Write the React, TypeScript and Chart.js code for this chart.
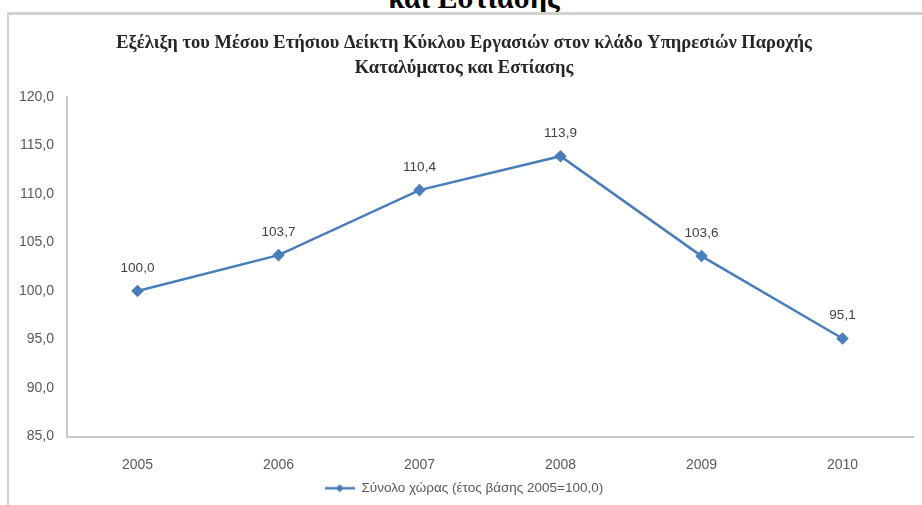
import React, { useEffect, useRef } from "react";
import { Chart, registerables } from "chart.js";

Chart.register(...registerables);

const categories = ["2005", "2006", "2007", "2008", "2009", "2010"];
const seriesValues = [100.0, 103.7, 110.4, 113.9, 103.6, 95.1];
const seriesLabel = "Σύνολο χώρας (έτος βάσης 2005=100,0)";
const titleLines = [
  "Εξέλιξη του Μέσου Ετήσιου Δείκτη Κύκλου Εργασιών στον κλάδο Υπηρεσιών Παροχής",
  "Καταλύματος και Εστίασης",
];
const headingText = "και Εστίασης";
const yMin = 85;
const yMax = 120;
const yStep = 5;

const LINE_COLOR = "#4a7ebb";

const fmt = (v: number) => v.toFixed(1).replace(".", ",");

function makeLegendImage(): HTMLCanvasElement {
  const c = document.createElement("canvas");
  c.width = 30;
  c.height = 10;
  const ctx = c.getContext("2d")!;
  ctx.strokeStyle = LINE_COLOR;
  ctx.lineWidth = 2.5;
  ctx.beginPath();
  ctx.moveTo(0, 5);
  ctx.lineTo(30, 5);
  ctx.stroke();
  ctx.fillStyle = LINE_COLOR;
  ctx.beginPath();
  ctx.moveTo(15, 1);
  ctx.lineTo(19, 5);
  ctx.lineTo(15, 9);
  ctx.lineTo(11, 5);
  ctx.closePath();
  ctx.fill();
  return c;
}

const dataLabelPlugin = {
  id: "dataLabels",
  afterDatasetsDraw(chart: any) {
    const ctx = chart.ctx;
    chart.data.datasets.forEach((ds: any, i: number) => {
      const meta = chart.getDatasetMeta(i);
      meta.data.forEach((pt: any, j: number) => {
        ctx.save();
        ctx.font = "13.5px 'Liberation Sans'";
        ctx.fillStyle = "#404040";
        ctx.textAlign = "center";
        ctx.textBaseline = "middle";
        ctx.fillText(fmt(ds.data[j]), pt.x, pt.y - 23);
        ctx.restore();
      });
    });
  },
};

export default function App() {
  const canvasRef = useRef<HTMLCanvasElement | null>(null);

  useEffect(() => {
    if (!canvasRef.current) return;
    const legendImg = makeLegendImage();
    const chart = new Chart(canvasRef.current, {
      type: "line",
      data: {
        labels: categories,
        datasets: [
          {
            label: seriesLabel,
            data: seriesValues,
            borderColor: LINE_COLOR,
            backgroundColor: LINE_COLOR,
            borderWidth: 2.5,
            tension: 0,
            pointStyle: "rectRot",
            pointRadius: 4.5,
            pointBackgroundColor: LINE_COLOR,
            pointBorderColor: LINE_COLOR,
          },
        ],
      },
      options: {
        responsive: false,
        animation: false,
        layout: { padding: { top: 31, left: 15, right: 9, bottom: 0 } },
        scales: {
          x: {
            offset: true,
            grid: { display: false },
            border: { display: true, color: "#c8c8c8", width: 2 },
            ticks: {
              color: "#595959",
              font: { family: "'Liberation Sans'", size: 14 },
              padding: 12,
            },
            afterFit(scale: any) {
              scale.height = 34;
            },
          },
          y: {
            min: yMin,
            max: yMax,
            grid: { display: false },
            border: { display: true, color: "#c8c8c8", width: 2 },
            ticks: {
              stepSize: yStep,
              color: "#595959",
              font: { family: "'Liberation Sans'", size: 14 },
              padding: 5,
              callback: (v: any) => fmt(Number(v)),
            },
            afterFit(scale: any) {
              scale.width = 52;
            },
          },
        },
        plugins: {
          title: {
            display: true,
            text: titleLines,
            color: "#262626",
            font: { family: "'Liberation Serif'", size: 18.5, weight: "bold", lineHeight: 25 / 18.5 },
            padding: { top: 0, bottom: 16 },
          },
          legend: {
            position: "bottom",
            labels: {
              color: "#595959",
              font: { family: "'Liberation Sans'", size: 13.5 },
              usePointStyle: true,
              pointStyleWidth: 30,
              padding: 11,
              generateLabels: (ch: any) =>
                ch.data.datasets.map((ds: any, i: number) => ({
                  text: ds.label,
                  pointStyle: legendImg,
                  fillStyle: LINE_COLOR,
                  strokeStyle: LINE_COLOR,
                  lineWidth: 0,
                  hidden: false,
                  datasetIndex: i,
                  fontColor: "#595959",
                })),
            },
          },
          tooltip: { enabled: false },
        },
      },
      plugins: [dataLabelPlugin],
    } as any);
    return () => chart.destroy();
  }, []);

  return (
    <div
      style={{
        position: "fixed",
        left: 0,
        top: 0,
        width: 922,
        height: 505,
        overflow: "hidden",
        background: "#ffffff",
      }}
    >
      <div
        style={{
          position: "absolute",
          left: 474,
          top: -17,
          transform: "translateX(-50%)",
          font: "bold 30px 'Liberation Serif'",
          lineHeight: "30px",
          whiteSpace: "nowrap",
          color: "#000",
        }}
      >
        {headingText}
      </div>
      <div
        style={{
          position: "absolute",
          left: 7,
          top: 12,
          width: 940,
          height: 520,
          borderLeft: "2px solid #d2d2d2",
          borderTop: "3px solid #d2d2d2",
          boxSizing: "border-box",
        }}
      />
      <canvas
        ref={canvasRef}
        width={922}
        height={505}
        style={{ position: "absolute", left: 0, top: 0, display: "block" }}
      />
    </div>
  );
}
